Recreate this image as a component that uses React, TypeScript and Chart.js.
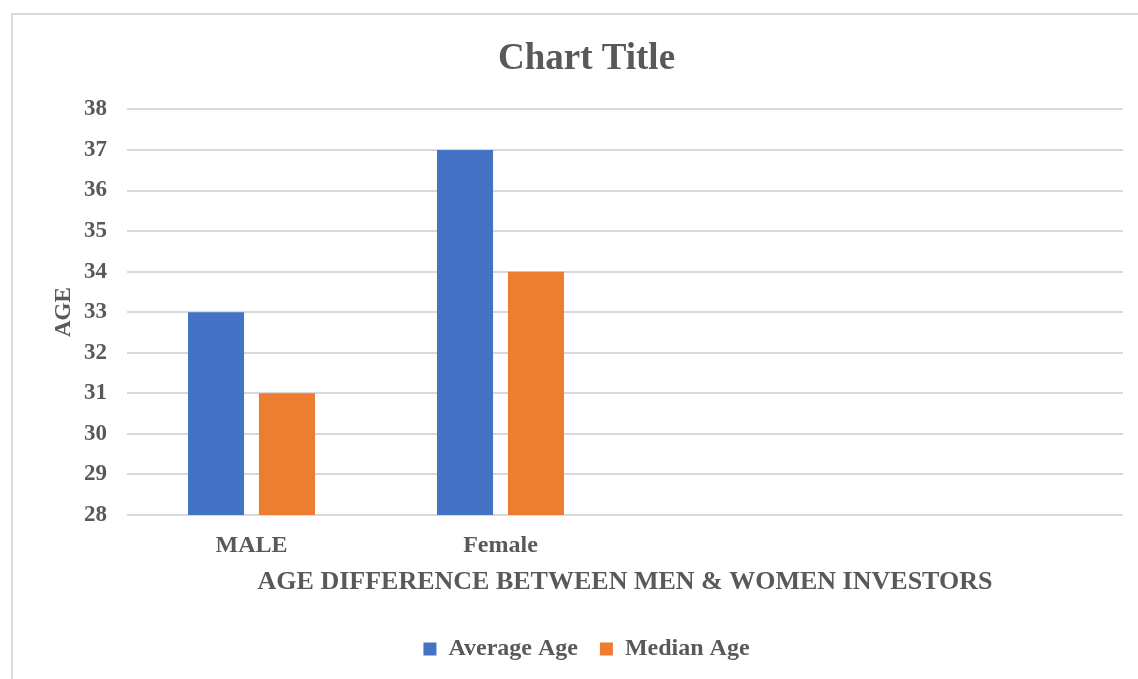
import React, { useEffect, useRef } from "react";
import { Chart, registerables } from "chart.js";

Chart.register(...registerables);

const categories = ["MALE", "Female", "", ""];
const averageAge = [33, 37, null, null];
const medianAge = [31, 34, null, null];
const yMin = 28;
const yMax = 38;

const FONT = '"Liberation Serif", "Times New Roman", serif';
const TEXT = "#595959";

export default function App() {
  const ref = useRef<HTMLCanvasElement | null>(null);

  useEffect(() => {
    if (!ref.current) return;
    const chart = new Chart(ref.current, {
      type: "bar",
      data: {
        labels: categories,
        datasets: [
          {
            label: "Average Age",
            data: averageAge,
            backgroundColor: "#4472C4",
            categoryPercentage: 0.57,
            barPercentage: 0.79,
          },
          {
            label: "Median Age",
            data: medianAge,
            backgroundColor: "#ED7D31",
            categoryPercentage: 0.57,
            barPercentage: 0.79,
          },
        ],
      },
      options: {
        animation: false,
        responsive: true,
        maintainAspectRatio: false,
        layout: { padding: { left: 50, right: 15, top: 18, bottom: 8 } },
        plugins: {
          title: {
            display: true,
            text: "Chart Title",
            color: TEXT,
            font: { family: FONT, size: 37, weight: "bold" },
            padding: { top: 19, bottom: 28 },
          },
          legend: {
            position: "bottom",
            labels: {
              color: TEXT,
              font: { family: FONT, size: 24, weight: "bold" },
              boxWidth: 13,
              boxHeight: 13,
              padding: 22,
            },
          },
          tooltip: { enabled: false },
        },
        scales: {
          x: {
            afterFit: (scale: any) => {
              scale.height = 100;
            },
            grid: { display: false, drawTicks: false },
            border: { display: false },
            ticks: {
              color: TEXT,
              font: { family: FONT, size: 24, weight: "bold" },
              padding: 16,
              maxRotation: 0,
              autoSkip: false,
            },
            title: {
              display: true,
              text: "AGE DIFFERENCE BETWEEN MEN & WOMEN INVESTORS",
              color: TEXT,
              font: { family: FONT, size: 26, weight: "bold" },
              padding: { top: 0, bottom: 17 },
            },
          },
          y: {
            min: yMin,
            max: yMax,
            afterFit: (scale: any) => {
              scale.width = 77;
            },
            grid: { color: "#d9d9d9", lineWidth: 2, drawTicks: false },
            border: { display: false },
            ticks: {
              stepSize: 1,
              color: TEXT,
              font: { family: FONT, size: 23, weight: "bold" },
              padding: 20,
            },
            title: {
              display: true,
              text: "AGE",
              color: TEXT,
              font: { family: FONT, size: 23, weight: "bold" },
              padding: { top: 0, bottom: 0 },
            },
          },
        },
      },
    });
    return () => chart.destroy();
  }, []);

  return (
    <div
      style={{
        position: "fixed",
        left: 0,
        top: 0,
        width: 1138,
        height: 679,
        overflow: "hidden",
        background: "#fff",
      }}
    >
      <div style={{ position: "absolute", left: 0, top: 0, width: 1138, height: 679 }}>
        <canvas ref={ref} />
      </div>
      <div
        style={{
          position: "absolute",
          left: 11,
          top: 13,
          width: 1140,
          height: 680,
          borderLeft: "2px solid #d9d9d9",
          borderTop: "2px solid #d9d9d9",
          pointerEvents: "none",
        }}
      />
    </div>
  );
}
